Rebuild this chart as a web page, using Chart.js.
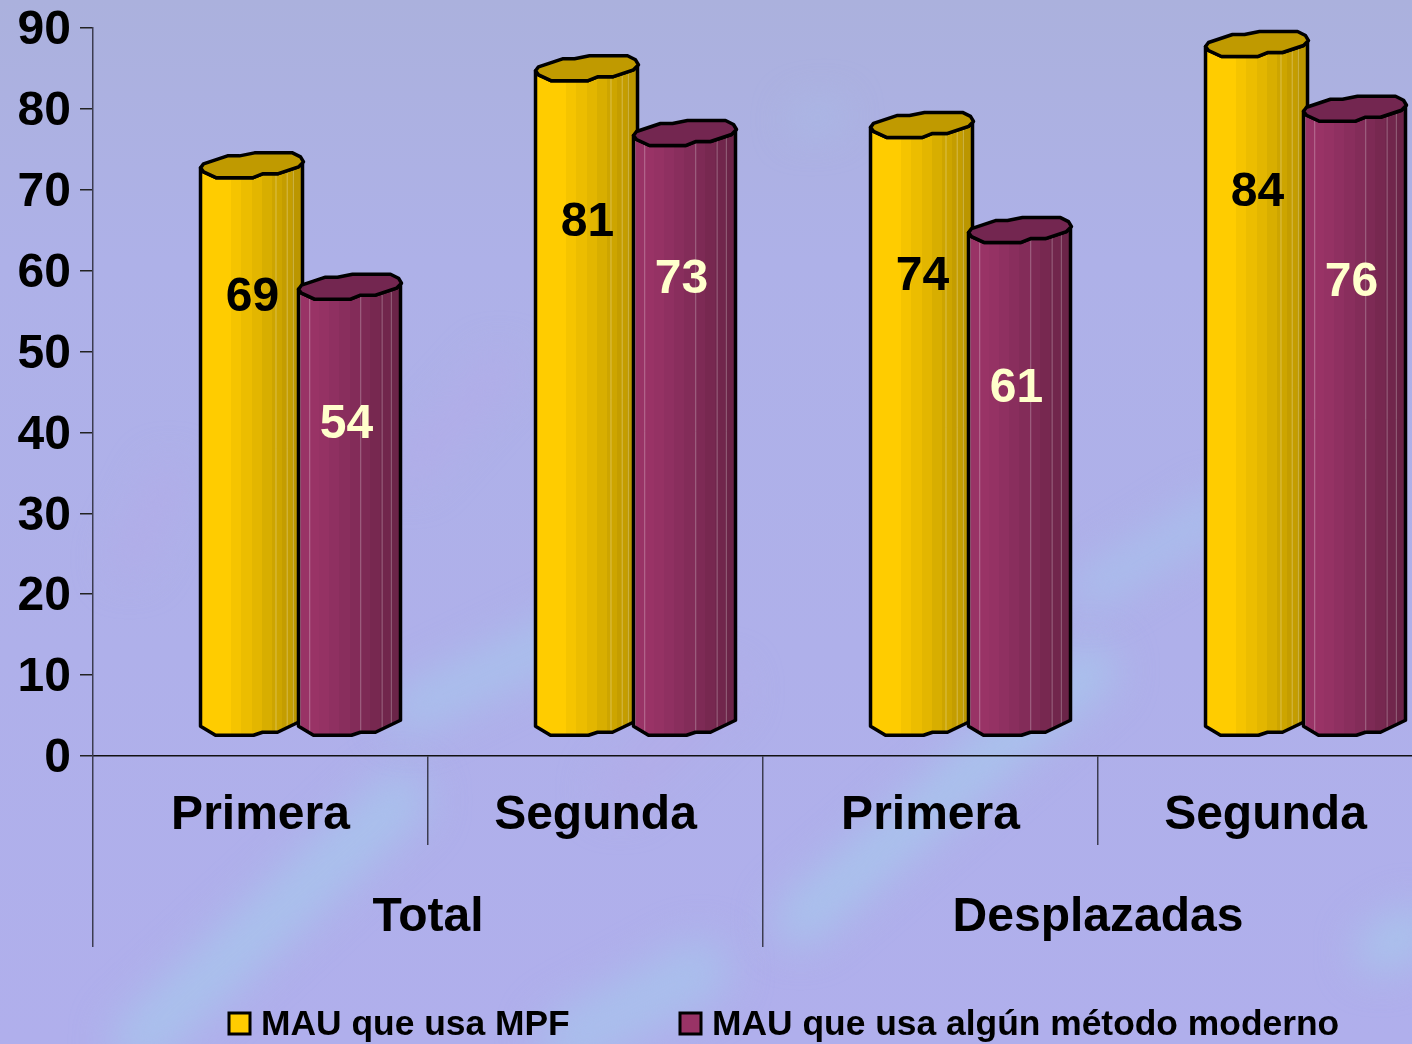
<!DOCTYPE html>
<html>
<head>
<meta charset="utf-8">
<title>MAU</title>
<script src="https://cdn.jsdelivr.net/npm/chart.js@4"></script>
<style>
  html, body { margin: 0; padding: 0; background: #aeb1e8; overflow: hidden; width: 1412px; height: 1044px; }
  canvas { display: block; }
</style>
</head>
<body>
<!-- wider than the window: the last category runs off the right edge in the original -->
<canvas id="chart" width="1433" height="1044"></canvas>
<script>
const categories = ['Primera', 'Segunda', 'Primera', 'Segunda'];
const groups = ['Total', 'Desplazadas'];
const seriesNames = ['MAU que usa MPF', 'MAU que usa algún método moderno'];
const mpfValues = [69, 81, 74, 84];
const modernValues = [54, 73, 61, 76];
const yTicks = [0, 10, 20, 30, 40, 50, 60, 70, 80, 90];

const FONT = '"Liberation Sans", Arial, sans-serif';

// looks of the two cylinders: colour bands left to right, cap colour, faint vertical lines
const looks = [
    {
        bands: ['#ffcc00', '#ffcc00', '#ffcc00', '#f5c400', '#ecbd00', '#e3b600', '#d8ae00', '#cda500', '#c49d00', '#bb9600'],
        cap: '#c09a00', shine: [0.74, 0.85, 0.91], text: '#000000', labelX: 52
    },
    {
        bands: ['#993366', '#993366', '#953264', '#8f3061', '#892e5d', '#832c59', '#7d2a55', '#772850', '#71264c', '#6b2448'],
        cap: '#732650', shine: [0.02, 0.11, 0.61, 0.82, 0.91], text: '#ffffcc', labelX: 48
    }
];

// outline of the lumpy cylinder, px relative to bar left / top or bottom
const capBack = [[0, -10], [3, -14], [27, -22], [39, -22], [54, -25], [92, -25], [100, -21], [103, -16]];
const capFront = [[98, -11], [77, -4], [62, -4], [52, 0], [16, 0], [3, -6]];
const baseEdge = [[0, -9], [15, 0], [53, 0], [62, -3], [77, -3], [102, -15]];

const backgroundPlugin = {
    id: 'mottled',
    beforeDraw(chart) {
        const { ctx, width, height } = chart;
        ctx.save();
        const base = ctx.createLinearGradient(0, 0, 0, height);
        base.addColorStop(0, '#abb1dd');
        base.addColorStop(0.25, '#aeb1e8');
        base.addColorStop(1, '#b0afec');
        ctx.fillStyle = base;
        ctx.fillRect(0, 0, width, height);
        ctx.filter = 'blur(20px)';
        ctx.lineCap = 'round';
        // light blue diagonal streaks, a few purple patches
        const streaks = [
            ['#a9c1ec', 55, [140, 1040], [400, 800]],
            ['#a9c0ec', 45, [410, 710], [620, 610]],
            ['#a9c2ec', 50, [800, 920], [1090, 670]],
            ['#a9bfec', 35, [1090, 590], [1220, 510]],
            ['#a9c4ec', 45, [1380, 950], [1412, 930]],
            ['#a9bfec', 60, [570, 1040], [700, 970]],
            ['#a9bde8', 22, [805, 120], [830, 115]],
            ['#b2ace8', 30, [130, 560], [170, 480]],
            ['#b2ace8', 40, [620, 790], [720, 690]],
            ['#b2ace8', 30, [410, 470], [500, 370]]
        ];
        streaks.forEach(([color, w, from, to]) => {
            ctx.strokeStyle = color;
            ctx.lineWidth = w;
            ctx.beginPath();
            ctx.moveTo(from[0], from[1]);
            ctx.lineTo(to[0], to[1]);
            ctx.stroke();
        });
        ctx.restore();
    }
};

const cylinderPlugin = {
    id: 'cylinder',
    afterDatasetsDraw(chart, args, opts) {
        const ctx = chart.ctx;
        chart.data.datasets.forEach((ds, d) => {
            const look = looks[d];
            chart.getDatasetMeta(d).data.forEach((bar, i) => {
                const left = bar.x - bar.width / 2 + opts.shiftX;
                const top = bar.y + opts.shiftY;
                const bottom = bar.base + opts.shiftY;
                const right = left + 102;

                // body
                const body = new Path2D();
                body.moveTo(left, top - 10);
                baseEdge.forEach(p => body.lineTo(left + p[0], bottom + p[1]));
                body.lineTo(right, top - 16);
                capFront.forEach(p => body.lineTo(left + p[0], top + p[1]));
                body.closePath();

                const grad = ctx.createLinearGradient(left, 0, right, 0);
                look.bands.forEach((c, k) => {
                    grad.addColorStop(k / look.bands.length, c);
                    grad.addColorStop((k + 1) / look.bands.length, c);
                });
                ctx.save();
                ctx.lineJoin = 'round';
                ctx.fillStyle = grad;
                ctx.fill(body);

                // faint lines on the side
                ctx.save();
                ctx.clip(body);
                ctx.strokeStyle = 'rgba(255,255,255,0.3)';
                ctx.lineWidth = 1;
                look.shine.forEach(f => {
                    ctx.beginPath();
                    ctx.moveTo(left + f * 102, top - 20);
                    ctx.lineTo(left + f * 102, bottom);
                    ctx.stroke();
                });
                ctx.restore();

                ctx.strokeStyle = '#000';
                ctx.lineWidth = 3.5;
                ctx.stroke(body);

                // cap
                const cap = new Path2D();
                capBack.concat(capFront).forEach(p => cap.lineTo(left + p[0], top + p[1]));
                cap.closePath();
                ctx.fillStyle = look.cap;
                ctx.fill(cap);
                ctx.stroke(cap);

                // value label
                ctx.fillStyle = look.text;
                ctx.font = 'bold 48px ' + FONT;
                ctx.textAlign = 'center';
                ctx.textBaseline = 'middle';
                ctx.fillText(String(ds.data[i]), left + look.labelX, bar.y + opts.labelDrop[d][i]);
                ctx.restore();
            });
        });
    }
};

const bottomLegendPlugin = {
    id: 'bottomLegend',
    afterDraw(chart, args, opts) {
        const ctx = chart.ctx;
        ctx.save();
        ctx.font = 'bold 35.4px ' + FONT;
        ctx.textAlign = 'left';
        ctx.textBaseline = 'alphabetic';
        chart.data.datasets.forEach((ds, d) => {
            const x = opts.starts[d];
            ctx.fillStyle = looks[d].bands[0];
            ctx.fillRect(x, 1013, 21, 21);
            ctx.strokeStyle = '#000';
            ctx.lineWidth = 3;
            ctx.strokeRect(x, 1013, 21, 21);
            ctx.fillStyle = '#000';
            ctx.fillText(ds.label, x + 32, 1035);
        });
        ctx.restore();
    }
};

new Chart(document.getElementById('chart'), {
    type: 'bar',
    data: {
        labels: categories,
        datasets: [
            { label: seriesNames[0], data: mpfValues, backgroundColor: 'transparent' },
            { label: seriesNames[1], data: modernValues, backgroundColor: 'transparent' }
        ]
    },
    plugins: [backgroundPlugin, cylinderPlugin, bottomLegendPlugin],
    options: {
        responsive: false,
        animation: false,
        categoryPercentage: 0.585,
        barPercentage: 1,
        layout: { padding: { top: 28, right: 0, bottom: 97, left: 0 } },
        plugins: {
            legend: { display: false },
            tooltip: { enabled: false },
            cylinder: {
                shiftX: 38,
                shiftY: -20,
                labelDrop: [[100, 122, 119, 116], [106, 114, 126, 142]]
            },
            bottomLegend: { starts: [229, 680] }
        },
        scales: {
            x: {
                type: 'category',
                position: 'bottom',
                grid: { offset: true, drawOnChartArea: false, tickLength: 89, color: '#3c3c50', lineWidth: 1.5 },
                border: { color: '#111', width: 1.5 },
                ticks: { color: '#000', font: { family: FONT, size: 48, weight: 'bold' }, padding: -58, maxRotation: 0, autoSkip: false },
                afterFit(scale) { scale.height = 89; }
            },
            x2: {
                type: 'category',
                position: 'bottom',
                labels: groups,
                grid: { offset: true, drawOnChartArea: false, tickLength: 102, color: '#3c3c50', lineWidth: 1.5 },
                border: { display: false },
                ticks: { color: '#000', font: { family: FONT, size: 48, weight: 'bold' }, padding: -58, maxRotation: 0, autoSkip: false },
                afterFit(scale) { scale.height = 102; }
            },
            y: {
                min: 0,
                max: 90,
                grid: { drawOnChartArea: false, tickLength: 13, color: '#222', lineWidth: 1.5 },
                border: { color: '#3c3c50', width: 1.5 },
                afterBuildTicks(scale) { scale.ticks = yTicks.map(v => ({ value: v })); },
                ticks: { color: '#000', font: { family: FONT, size: 48, weight: 'bold' }, padding: 9, labelOffset: 3 },
                afterFit(scale) {
                    scale.width = 93;
                    scale.paddingTop = 28;
                    scale.paddingBottom = 0;
                }
            }
        }
    }
});
</script>
</body>
</html>
